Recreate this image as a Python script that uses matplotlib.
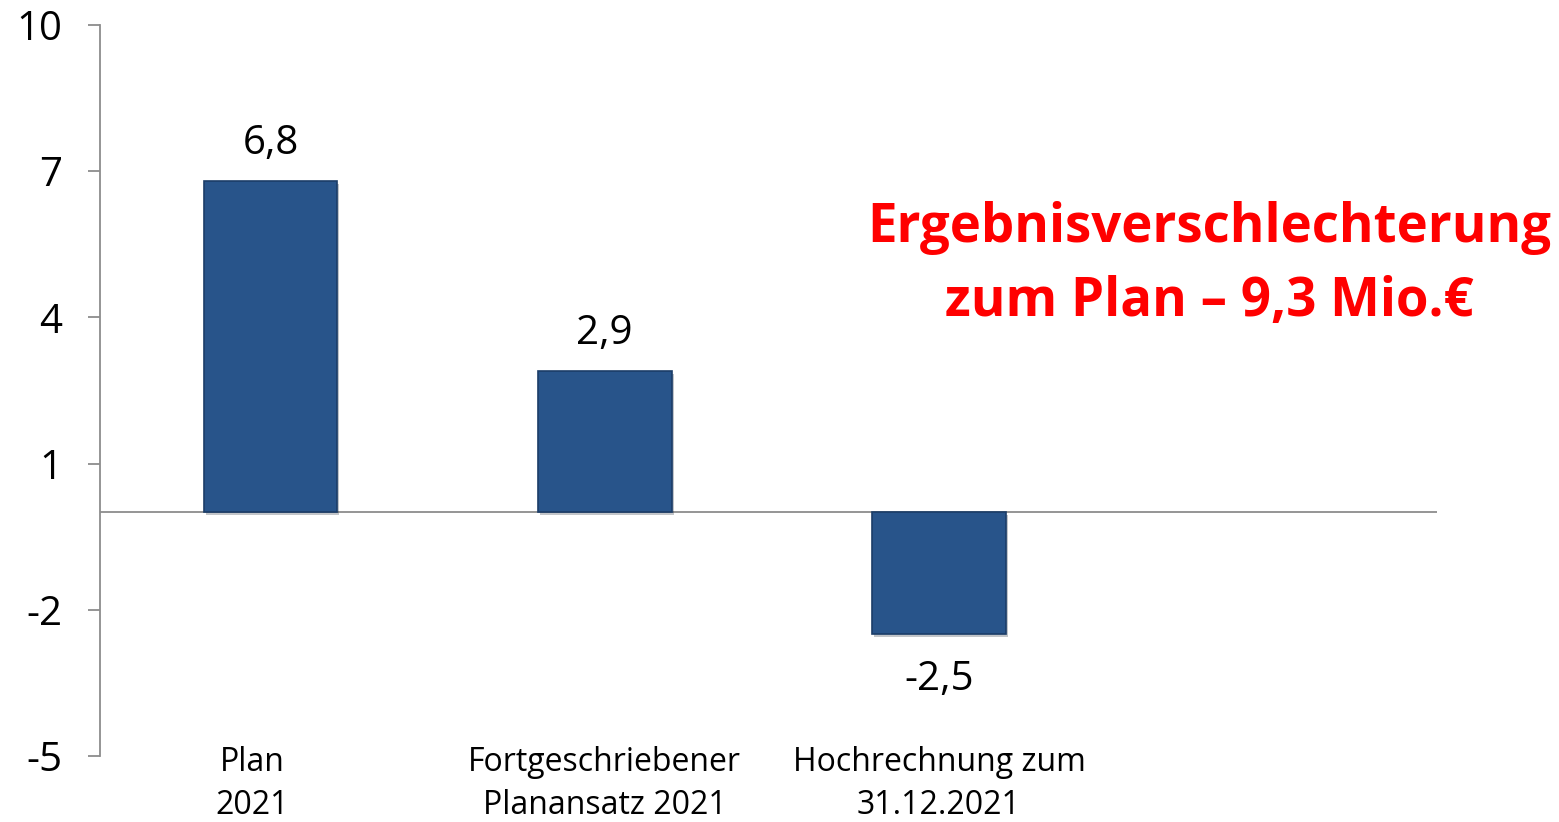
import matplotlib.pyplot as plt
import matplotlib.transforms as mtransforms
import matplotlib.patheffects as pe

categories = ["Plan\n2021", "Fortgeschriebener\nPlanansatz 2021", "Hochrechnung zum\n31.12.2021", ""]
values = [6.8, 2.9, -2.5]
value_labels = ["6,8", "2,9", "-2,5"]
yticks = [-5, -2, 1, 4, 7, 10]
note = "Ergebnisverschlechterung\nzum Plan – 9,3 Mio.€"

plt.rcParams['font.family'] = ['Open Sans', 'DejaVu Sans']

fig = plt.figure(figsize=(15.59, 8.22), dpi=100)
ax = fig.add_axes([100 / 1559, 66 / 822, 1337 / 1559, 731 / 822])

x = list(range(len(values)))
bars = ax.bar(x, values, width=0.4, color="#28548A", edgecolor="#1B3D68", linewidth=1.2, zorder=3)
for b in bars:
    b.set_path_effects([pe.SimplePatchShadow(offset=(1.5, -2), alpha=0.25), pe.Normal()])

for xi, v, lab in zip(x, values, value_labels):
    off = 12 if v >= 0 else -18
    ax.annotate(lab, (xi, v), xytext=(0, off), textcoords="offset points",
                ha="center", va="bottom" if v >= 0 else "top", fontsize=29)

ax.set_xlim(-0.51, len(categories) - 0.51)
ax.set_ylim(-5, 10)
ax.set_yticks(yticks)
ax.set_yticklabels([str(t) for t in yticks], fontsize=29)
ax.axhline(0, color="#8C8C8C", linewidth=1.3, zorder=2)

ax.set_xticks(range(len(categories)))
ax.set_xticklabels(categories, fontsize=23, linespacing=1.4)
ax.tick_params(axis="x", length=0, pad=-7)
ax.tick_params(axis="y", length=9, width=1.3, color="#8C8C8C", pad=18)

# Plan label sits a bit left of its bar in the original
shift = mtransforms.ScaledTranslation(-18 / 100, 0, fig.dpi_scale_trans)
first = ax.get_xticklabels()[0]
first.set_transform(first.get_transform() + shift)

for s in ["top", "right", "bottom"]:
    ax.spines[s].set_visible(False)
ax.spines["left"].set_color("#8C8C8C")
ax.spines["left"].set_linewidth(1.3)

ax.text(0.83, 0.672, note, transform=ax.transAxes, ha="center", va="center",
        color="#FF0000", fontsize=38, fontweight="bold", linespacing=1.5)

fig.savefig("out.png", dpi=100)
